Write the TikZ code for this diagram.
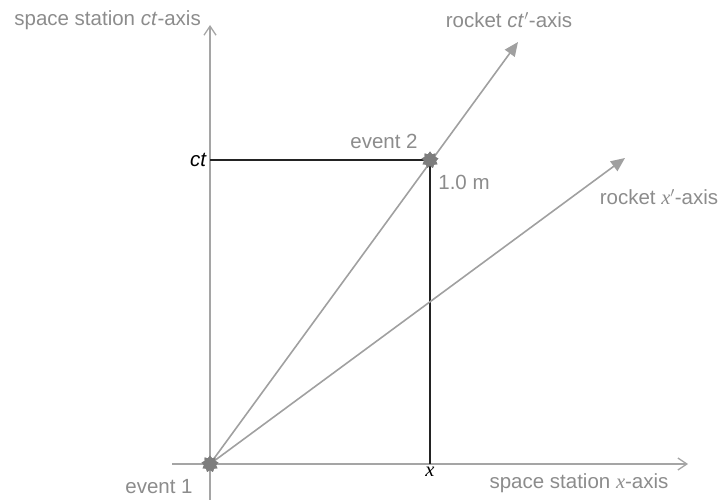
\documentclass[tikz,border=0pt]{standalone}
\usepackage{fontspec}
\setmainfont{Liberation Sans}
\newfontfamily\serifit{Liberation Serif}[ItalicFont={Liberation Serif Italic}]
\usetikzlibrary{arrows.meta,shapes.geometric}
\definecolor{axisgray}{RGB}{165,165,165}
\definecolor{rockgray}{RGB}{160,160,160}
\definecolor{textgray}{RGB}{140,140,140}
\definecolor{evgray}{RGB}{125,125,125}
\definecolor{darkline}{RGB}{35,35,35}
\tikzset{
  lab/.style={text=textgray, font=\fontsize{20.5}{24}\selectfont, inner sep=0pt},
  dlab/.style={text=black, font=\fontsize{20.5}{24}\selectfont, inner sep=0pt},
  stationaxis/.style={draw=axisgray, line width=1.3pt, -{Straight Barb[length=9pt,width=12pt,line width=1.3pt]}},
  rocketaxis/.style={draw=rockgray, line width=1.6pt, -{Triangle[length=14pt,width=12pt]}},
  blackline/.style={draw=darkline, line width=1.5pt},
  eventmark/.style={star, star points=9, star point ratio=1.4, minimum size=17pt, inner sep=0pt, fill=evgray, draw=none}
}
\begin{document}
\begin{tikzpicture}[x=1pt,y=-1pt]
\useasboundingbox (0,0) rectangle (723,500);
% axis endpoints
\coordinate (ctbot) at (210,500);
\coordinate (cttop) at (210,25);
\coordinate (xleft) at (172,464);
\coordinate (xright) at (688,464);
\coordinate (ctptip) at (518,42);
\coordinate (xptip) at (625,158);
\coordinate (ctmark) at (210,160);
\coordinate (xmark) at (430,464);
% station axes
\draw[stationaxis] (ctbot) -- (cttop);
\draw[stationaxis] (xleft) -- (xright);
% events
\node[eventmark] (e1) at (210,464) {};
\node[eventmark] (e2) at (430,160) {};
% black projection lines
\draw[blackline] (ctmark) -- (e2.center) -- (xmark);
% rocket axes
\draw[rocketaxis] (e1.center) -- (ctptip);
\draw[rocketaxis] (e1.center) -- (xptip);
\node[eventmark] at (e1.center) {};
\node[eventmark] at (e2.center) {};
% labels
\node[lab, anchor=east] (lct) at (201,20) {space station \textit{ct}-axis};
\node[lab] (lctp) at (509,20) {rocket \textit{ct}\kern0.5pt$'$-axis};
\node[lab] (lxp) at (659,197) {rocket {\serifit\itshape x}$'$-axis};
\node[lab] (lx) at (579,483) {space station {\serifit\itshape x}-axis};
\node[lab] (le2) at (384,141) {event 2};
\node[lab] (le1) at (159,487) {event 1};
\node[lab] (lm) at (464,182) {1.0 m};
\node[dlab, anchor=east] (lctm) at (207,160) {\textit{ct}};
\node[dlab, anchor=north] (lxm) at (430,467) {\serifit\itshape x};
\end{tikzpicture}
\end{document}
